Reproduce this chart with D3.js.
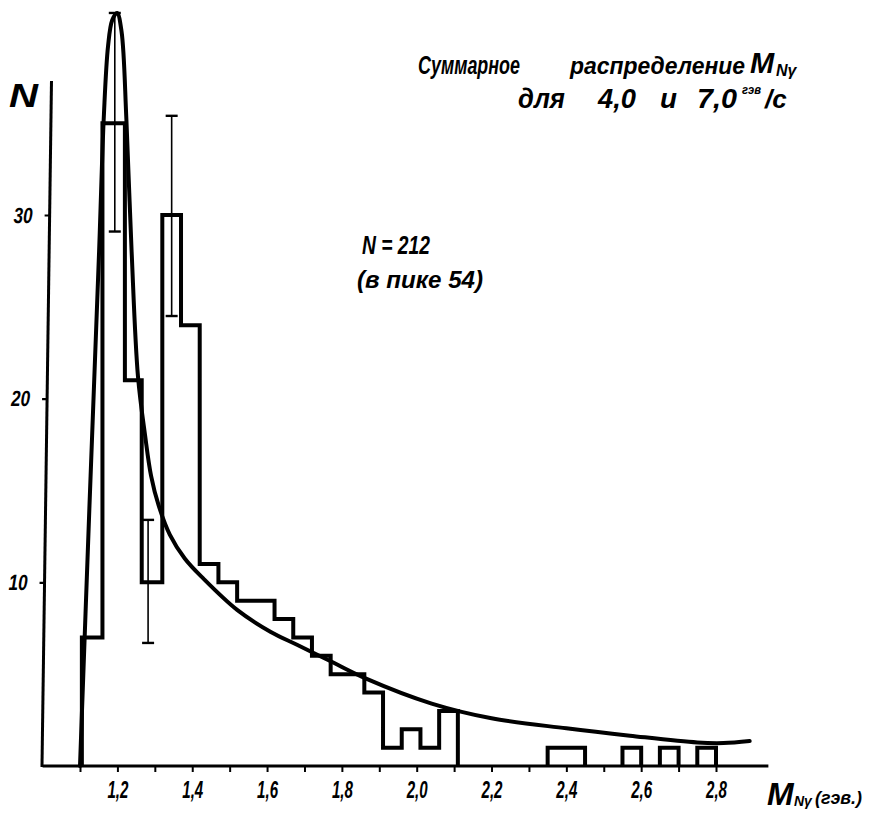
<!DOCTYPE html>
<html>
<head>
<meta charset="utf-8">
<script src="https://cdn.jsdelivr.net/npm/d3@7"></script>
<style>
  html, body { margin: 0; padding: 0; background: #fff; }
  svg { display: block; }
  text { font-family: "Liberation Sans", "DejaVu Sans", sans-serif; font-style: italic; font-weight: bold; fill: #000; }
</style>
</head>
<body>
<svg id="chart" width="869" height="814"></svg>
<script>
// Histogram: bin edges in GeV and number of events in each bin
const binEdges  = [1.105, 1.16, 1.22, 1.265, 1.32, 1.37, 1.42, 1.47, 1.52, 1.57, 1.62, 1.67, 1.72, 1.77,
                   1.815, 1.86, 1.91, 1.96, 2.01, 2.06, 2.11, 2.35, 2.40, 2.45, 2.55, 2.60, 2.65, 2.70, 2.75, 2.80];
const binCounts = [7, 35, 21, 10, 30, 24, 11, 10, 9, 9, 8, 7, 6, 5,
                   5, 4, 1, 2, 1, 3, 0, 1, 1, 0, 1, 0, 1, 0, 1];

// Statistical error bars on selected bins
const errMass = [1.193, 1.282, 1.345];
const errLow  = [29.1, 6.7, 24.5];
const errHigh = [41.0, 13.4, 35.4];

// Fitted distribution (smooth curve)
const fitMass = [1.100, 1.125, 1.151, 1.164, 1.175, 1.186, 1.199, 1.211, 1.224, 1.238, 1.255, 1.274, 1.290,
                 1.310, 1.340, 1.380, 1.430, 1.52, 1.61, 1.68, 1.77, 1.86, 2.04, 2.20, 2.40, 2.57, 2.75, 2.82, 2.89];
const fitN    = [0, 14, 28, 35.5, 39.2, 40.6, 41.0, 40.0, 35.2, 28.0, 21.2, 18.0, 15.8,
                 14.2, 12.6, 11.3, 10.2, 8.5, 7.3, 6.6, 5.7, 4.8, 3.4, 2.6, 2.05, 1.65, 1.28, 1.25, 1.36];

// Axis ticks
const xTicks      = [1.1, 1.2, 1.3, 1.4, 1.5, 1.6, 1.7, 1.8, 1.9, 2.0, 2.1, 2.2, 2.3, 2.4, 2.5, 2.6, 2.7, 2.8];
const xTickLabels = ["", "1,2", "", "1,4", "", "1,6", "", "1,8", "", "2,0", "", "2,2", "", "2,4", "", "2,6", "", "2,8"];
const yTicks      = [10, 20, 30];
const yTickLabels = ["10", "20", "30"];

const svg = d3.select("#chart");

const x = d3.scaleLinear().domain([1.1, 2.8]).range([80, 716]);
const y = d3.scaleLinear().domain([0, 30]).range([766, 215]);

// ---- x axis ----
const xAxis = d3.axisBottom(x)
  .tickValues(xTicks)
  .tickSize(6)
  .tickPadding(10)
  .tickFormat((d, i) => xTickLabels[i]);

const gx = svg.append("g").attr("transform", `translate(0,${y(0)})`).call(xAxis);
gx.select(".domain").remove();
gx.selectAll(".tick line").attr("stroke", "#000").attr("stroke-width", 2);
gx.selectAll(".tick text")
  .attr("font-size", 23)
  .attr("textLength", d => xTickLabels[xTicks.indexOf(d)] ? 21 : null)
  .attr("lengthAdjust", "spacingAndGlyphs");
gx.append("line")
  .attr("x1", x(1.0)).attr("x2", x(2.94))
  .attr("y1", 0).attr("y2", 0)
  .attr("stroke", "#000").attr("stroke-width", 3.2);

// ---- y axis (hand-ruled, leaning slightly) ----
const lean = -9.5 / 686;
const leanDeg = Math.atan(lean) * 180 / Math.PI;
const yAxis = d3.axisLeft(y)
  .tickValues(yTicks)
  .tickSize(5)
  .tickPadding(12)
  .tickFormat((d, i) => yTickLabels[i]);
const gy = svg.append("g")
  .attr("transform", `translate(${42 - lean * y(0)},0) skewX(${leanDeg})`)
  .call(yAxis);
gy.select(".domain").remove();
gy.selectAll(".tick line").attr("stroke", "#000").attr("stroke-width", 2.2);
gy.selectAll(".tick text")
  .attr("font-size", 22)
  .attr("textLength", 19)
  .attr("lengthAdjust", "spacingAndGlyphs");
gy.append("line")
  .attr("x1", 0).attr("x2", 0)
  .attr("y1", y(0) + 1).attr("y2", y(37.3))
  .attr("stroke", "#000").attr("stroke-width", 3);

// ---- histogram outline, drawn run by run over non-empty bins ----
const runs = [];
let cur = null;
binCounts.forEach((c, i) => {
  if (c > 0) {
    if (!cur) { cur = [[binEdges[i], 0]]; runs.push(cur); }
    cur.push([binEdges[i], c], [binEdges[i + 1], c]);
  } else if (cur) {
    cur.push([binEdges[i], 0]);
    cur = null;
  }
});
if (cur) cur.push([binEdges[binEdges.length - 1], 0]);

const stepLine = d3.line().x(d => x(d[0])).y(d => y(d[1]));
svg.append("g").selectAll("path")
  .data(runs)
  .join("path")
  .attr("d", stepLine)
  .attr("fill", "none")
  .attr("stroke", "#000")
  .attr("stroke-width", 4)
  .attr("stroke-linejoin", "miter");

// ---- fitted curve ----
const fitLine = d3.line()
  .x((d, i) => x(fitMass[i]))
  .y(d => y(d))
  .curve(d3.curveCatmullRom.alpha(0.5));
svg.append("path")
  .datum(fitN)
  .attr("d", fitLine)
  .attr("fill", "none")
  .attr("stroke", "#000")
  .attr("stroke-width", 4)
  .attr("stroke-linecap", "round");

// ---- error bars ----
const eb = svg.append("g").attr("stroke", "#000");
errMass.forEach((m, i) => {
  const cx = x(m);
  eb.append("line").attr("x1", cx).attr("x2", cx)
    .attr("y1", y(errLow[i])).attr("y2", y(errHigh[i])).attr("stroke-width", 1.6);
  [errLow[i], errHigh[i]].forEach(v => {
    eb.append("line").attr("x1", cx - 6).attr("x2", cx + 6)
      .attr("y1", y(v)).attr("y2", y(v)).attr("stroke-width", 2.4);
  });
});

// ---- axis titles ----
svg.append("text").attr("x", 9).attr("y", 107)
  .attr("font-size", 34).attr("textLength", 29).attr("lengthAdjust", "spacingAndGlyphs").text("N");

svg.append("text").attr("x", 767).attr("y", 805)
  .attr("font-size", 32).attr("font-weight", "normal").text("M");
svg.append("text").attr("x", 794).attr("y", 806)
  .attr("font-size", 14).text("Nγ");
svg.append("text").attr("x", 815).attr("y", 804)
  .attr("font-size", 19).attr("font-weight", "normal")
  .attr("textLength", 47).attr("lengthAdjust", "spacingAndGlyphs").text("(гэв.)");

// ---- title ----
const title1 = [
  { t: "Суммарное", x: 418, w: 102, s: 25 },
  { t: "распределение", x: 570, w: 175, s: 23 }
];
title1.forEach(d => svg.append("text").attr("x", d.x).attr("y", 74)
  .attr("font-size", d.s).attr("textLength", d.w).attr("lengthAdjust", "spacingAndGlyphs").text(d.t));
svg.append("text").attr("x", 750).attr("y", 73)
  .attr("font-size", 29).attr("font-weight", "normal").text("M");
svg.append("text").attr("x", 776).attr("y", 76)
  .attr("font-size", 16).text("Nγ");

const title2 = [
  { t: "для", x: 518, w: 47 },
  { t: "4,0", x: 598, w: 38 },
  { t: "и", x: 660, w: 17 },
  { t: "7,0", x: 697, w: 40 }
];
title2.forEach(d => svg.append("text").attr("x", d.x).attr("y", 108)
  .attr("font-size", 27).attr("textLength", d.w).attr("lengthAdjust", "spacingAndGlyphs").text(d.t));
svg.append("text").attr("x", 742).attr("y", 94).attr("font-size", 12)
  .attr("textLength", 19).attr("lengthAdjust", "spacingAndGlyphs").text("гэв");
svg.append("text").attr("x", 765).attr("y", 108).attr("font-size", 26).text("/с");

// ---- annotation ----
svg.append("text").attr("x", 362).attr("y", 254)
  .attr("font-size", 26).attr("textLength", 68).attr("lengthAdjust", "spacingAndGlyphs").text("N = 212");
svg.append("text").attr("x", 357).attr("y", 288)
  .attr("font-size", 24).attr("textLength", 126).attr("lengthAdjust", "spacingAndGlyphs").text("(в пике 54)");
</script>
</body>
</html>
